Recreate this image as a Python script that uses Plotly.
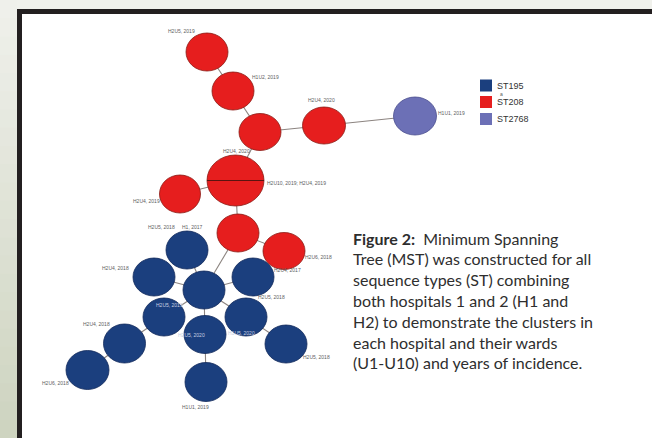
import plotly.graph_objects as go

W, H = 652, 438

# ---------------- data ----------------
node_ids = ["R1", "R2", "R3", "R4", "P1", "R5", "R6", "R7", "R8",
            "B1", "B2", "B3", "B4", "B5", "B6", "B7", "B8", "B9", "B10", "B11"]
node_st = ["ST208", "ST208", "ST208", "ST208", "ST2768", "ST208", "ST208", "ST208", "ST208",
           "ST195", "ST195", "ST195", "ST195", "ST195", "ST195", "ST195", "ST195", "ST195", "ST195", "ST195"]
node_x = [207, 233, 260, 324, 415, 235.5, 180, 238, 284,
          187, 154, 204, 253, 164, 246, 205, 124.5, 87.5, 286, 206]
node_y = [52, 91, 132, 125.5, 116, 180.5, 194, 233, 251,
          250, 277, 290, 277, 317, 317, 334.5, 343.5, 370, 344, 382]
node_w = [42, 42, 42, 43, 43, 57, 41, 42, 42,
          42, 42, 42, 42, 42, 42, 42, 42, 43, 42, 42]
node_h = [38, 38, 37, 37, 38, 51, 38, 38, 37,
          38, 38, 38, 38, 38, 38, 38, 39, 39, 38, 39]

edges = [("R1", "R2"), ("R2", "R3"), ("R3", "R4"), ("R4", "P1"), ("R3", "R5"),
         ("R5", "R6"), ("R5", "R7"), ("R7", "R8"), ("R7", "B3"), ("B3", "B1"),
         ("B3", "B2"), ("B3", "B4"), ("B3", "B5"), ("B3", "B6"), ("B3", "B7"),
         ("B5", "B8"), ("B8", "B9"), ("B6", "B10"), ("B7", "B11")]

label_text = ["H2U5, 2019", "H1U2, 2019", "H2U4, 2020", "H1U1, 2019", "H2U4, 2020",
              "H2U10, 2019; H2U4, 2019", "H2U4, 2019", "H2U6, 2018", "H2U5, 2018", "H1, 2017",
              "H2U4, 2018", "H2U4, 2017", "H2U5, 2019", "H2U5, 2018", "H2U5, 2020",
              "H1U5, 2020", "H2U4, 2018", "H2U6, 2018", "H2U5, 2018", "H1U1, 2019"]
label_x = [181, 265, 321, 451, 236, 296, 146, 318, 161, 192,
           115, 287, 169, 271, 191, 241, 96, 55, 316, 195]
label_y = [31, 77, 100, 113, 151, 183, 201, 257, 227, 227,
           268, 270, 305, 297, 335, 333, 324, 383, 357, 407]
label_inside = [False, False, False, False, False, False, False, False, False, False,
                False, False, True, False, True, True, False, False, False, False]

st_names = ["ST195", "ST208", "ST2768"]
st_colors = {"ST195": "#1b3f7e", "ST208": "#e61e1e", "ST2768": "#6c70b6"}
st_outline = {"ST195": "#10285a", "ST208": "#8a1a14", "ST2768": "#4a4e8e"}

caption_lines = [
    "<b>Figure 2:</b>  Minimum Spanning",
    "Tree (MST) was constructed for all",
    "sequence types (ST) combining",
    "both hospitals 1 and 2 (H1 and",
    "H2) to demonstrate the clusters in",
    "each hospital and their wards",
    "(U1-U10) and years of incidence.",
]

# ---------------- figure ----------------
fig = go.Figure()
shapes = []
annotations = []

# frame decoration
top_c = (239, 240, 235)
bot_c = (206, 212, 192)
nb = 24
for i in range(nb):
    t = i / (nb - 1)
    c = tuple(int(round(top_c[k] + (bot_c[k] - top_c[k]) * t)) for k in range(3))
    shapes.append(dict(type="rect", xref="x", yref="y", x0=0, x1=17,
                       y0=i * H / nb, y1=(i + 1) * H / nb + 1,
                       fillcolor="rgb(%d,%d,%d)" % c, line=dict(width=0), layer="below"))
shapes.append(dict(type="rect", xref="x", yref="y", x0=17, x1=W + 2, y0=9, y1=H + 2,
                   fillcolor="#231f20", line=dict(width=0), layer="below"))
shapes.append(dict(type="rect", xref="x", yref="y", x0=22, x1=W + 2, y0=14, y1=H + 2,
                   fillcolor="#ffffff", line=dict(width=0), layer="below"))

# edges
pos = {n: (x, y) for n, x, y in zip(node_ids, node_x, node_y)}
ex, ey = [], []
for a, b in edges:
    ex += [pos[a][0], pos[b][0], None]
    ey += [pos[a][1], pos[b][1], None]
fig.add_trace(go.Scatter(x=ex, y=ey, mode="lines",
                         line=dict(color="#8c8480", width=1.1),
                         hoverinfo="skip", showlegend=False))

# nodes (ellipses)
for n, st, x, y, w, h in zip(node_ids, node_st, node_x, node_y, node_w, node_h):
    shapes.append(dict(type="circle", xref="x", yref="y",
                       x0=x - w / 2, x1=x + w / 2, y0=y - h / 2, y1=y + h / 2,
                       fillcolor=st_colors[st], line=dict(color=st_outline[st], width=0.8),
                       layer="above"))
# split line in the large node
bi = node_ids.index("R5")
shapes.append(dict(type="line", xref="x", yref="y",
                   x0=node_x[bi] - node_w[bi] / 2, x1=node_x[bi] + node_w[bi] / 2,
                   y0=node_y[bi], y1=node_y[bi],
                   line=dict(color="#5a1410", width=1.2), layer="above"))

# invisible hover points
fig.add_trace(go.Scatter(x=node_x, y=node_y, mode="markers",
                         marker=dict(size=30, opacity=0),
                         text=node_st, hoverinfo="text", showlegend=False))

# node labels
for t, x, y, ins in zip(label_text, label_x, label_y, label_inside):
    annotations.append(dict(x=x, y=y, xref="x", yref="y", text=t, showarrow=False,
                            font=dict(family="Liberation Sans, Arial", size=5,
                                      color="#c9cfe2" if ins else "#5e5e5e"),
                            xanchor="center", yanchor="middle"))

# legend (manual)
leg_y = [85.5, 102, 119]
fig.add_trace(go.Scatter(x=[486] * 3, y=leg_y, mode="markers",
                         marker=dict(symbol="square", size=12,
                                     color=[st_colors[s] for s in st_names],
                                     line=dict(width=0)),
                         hoverinfo="skip", showlegend=False))
for s, y in zip(st_names, leg_y):
    annotations.append(dict(x=495, y=y, xref="x", yref="y", text=s, showarrow=False,
                            font=dict(family="Liberation Sans, Arial", size=9, color="#333333"),
                            xanchor="left", yanchor="middle"))
annotations.append(dict(x=501, y=93.5, xref="x", yref="y", text="a", showarrow=False,
                        font=dict(family="Liberation Sans, Arial", size=5, color="#555555"),
                        xanchor="center", yanchor="middle"))

# caption
for i, line in enumerate(caption_lines):
    annotations.append(dict(x=351, y=238 + 20.8 * i, xref="x", yref="y", text=line,
                            showarrow=False,
                            font=dict(family="Lato, Open Sans, sans-serif", size=16,
                                      color="#2e2e2e"),
                            xanchor="left", yanchor="middle"))

fig.update_layout(
    width=W, height=H,
    margin=dict(l=0, r=0, t=0, b=0),
    paper_bgcolor="#f0f1ec", plot_bgcolor="rgba(0,0,0,0)",
    xaxis=dict(range=[0, W], visible=False, fixedrange=True),
    yaxis=dict(range=[H, 0], visible=False, fixedrange=True),
    shapes=shapes, annotations=annotations,
    showlegend=False,
)
fig.write_html("out.html")
